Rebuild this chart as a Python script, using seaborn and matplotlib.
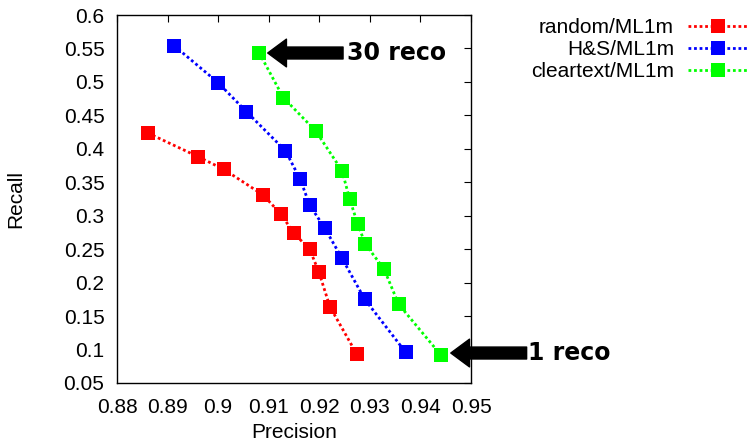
import matplotlib
matplotlib.use("Agg")
import matplotlib.pyplot as plt
import seaborn as sns
import pandas as pd

# ---- data ----
series_names = ["random/ML1m", "H&S/ML1m", "cleartext/ML1m"]
series_colors = ["#ff0000", "#0000ff", "#00ff00"]

random_precision = [0.8861, 0.8961, 0.9011, 0.9089, 0.9124, 0.9150, 0.9181, 0.9199, 0.9221, 0.9274]
random_recall = [0.4236, 0.3880, 0.3694, 0.3310, 0.3025, 0.2737, 0.2498, 0.2163, 0.1640, 0.0933]

hs_precision = [0.8913, 0.9000, 0.9056, 0.9133, 0.9162, 0.9181, 0.9211, 0.9245, 0.9290, 0.9371]
hs_recall = [0.5541, 0.4988, 0.4555, 0.3972, 0.3549, 0.3160, 0.2812, 0.2363, 0.1750, 0.0958]

clear_precision = [0.9081, 0.9129, 0.9193, 0.9245, 0.9260, 0.9276, 0.9291, 0.9328, 0.9357, 0.9440]
clear_recall = [0.5437, 0.4764, 0.4266, 0.3673, 0.3250, 0.2876, 0.2577, 0.2203, 0.1676, 0.0922]

x_ticks = [0.88, 0.89, 0.90, 0.91, 0.92, 0.93, 0.94, 0.95]
x_tick_labels = ["0.88", "0.89", "0.9", "0.91", "0.92", "0.93", "0.94", "0.95"]
y_ticks = [0.05, 0.1, 0.15, 0.2, 0.25, 0.3, 0.35, 0.4, 0.45, 0.5, 0.55, 0.6]
y_tick_labels = ["0.05", "0.1", "0.15", "0.2", "0.25", "0.3", "0.35", "0.4", "0.45", "0.5", "0.55", "0.6"]

annot_30_xy = (0.9098, 0.5432)
annot_30_tail = (0.9247, 0.5432)
annot_1_xy = (0.9460, 0.0948)
annot_1_tail = (0.9610, 0.0948)

# ---- build table ----
frames = []
for name, px, ry in zip(series_names,
                        [random_precision, hs_precision, clear_precision],
                        [random_recall, hs_recall, clear_recall]):
    frames.append(pd.DataFrame({"Precision": px, "Recall": ry, "series": name}))
df = pd.concat(frames, ignore_index=True)

sns.set_style("white")
plt.rcParams["font.family"] = ["Liberation Sans", "DejaVu Sans"]
plt.rcParams["text.color"] = "black"
plt.rcParams["axes.labelcolor"] = "black"
plt.rcParams["xtick.color"] = "black"
plt.rcParams["ytick.color"] = "black"

fig = plt.figure(figsize=(7.48, 4.44), dpi=100)
ax = fig.add_axes([117 / 748, 1 - 383 / 444, (471 - 117) / 748, (383 - 15) / 444])

palette = dict(zip(series_names, series_colors))
for name in series_names:
    sub = df[df["series"] == name]
    sns.lineplot(data=sub, x="Precision", y="Recall", color=palette[name],
                 marker="s", markersize=9.5, markeredgewidth=0,
                 linestyle=(0, (1, 1)), linewidth=2.0, sort=False,
                 estimator=None, label=name, ax=ax, legend=False)

ax.set_xlim(0.88, 0.95)
ax.set_ylim(0.05, 0.6)
ax.set_xticks(x_ticks)
ax.set_xticklabels(x_tick_labels)
ax.set_yticks(y_ticks)
ax.set_yticklabels(y_tick_labels)
ax.tick_params(direction="in", top=True, right=True, length=5, width=0.8,
               labelsize=15, pad=9, colors="black")
ax.tick_params(axis="x", pad=11)
for s in ax.spines.values():
    s.set_color("black")
    s.set_linewidth(1.0)

ax.set_xlabel("Precision", fontsize=15, color="black")
ax.set_ylabel("Recall", fontsize=15, color="black")
ax.xaxis.set_label_coords(0.5, -0.11)
ax.yaxis.set_label_coords(-0.26, 0.5)

arrow_kw = dict(facecolor="black", edgecolor="black", width=8.6, headwidth=20,
                headlength=13.5, shrink=0)
ax.annotate("", xy=annot_30_xy, xytext=annot_30_tail, arrowprops=arrow_kw,
            annotation_clip=False)
ax.text(annot_30_tail[0] + 0.0008, annot_30_tail[1], "30 reco", fontsize=17,
        fontweight="bold", family="DejaVu Sans", va="center", ha="left",
        color="black")
ax.annotate("", xy=annot_1_xy, xytext=annot_1_tail, arrowprops=arrow_kw,
            annotation_clip=False)
ax.text(annot_1_tail[0] + 0.0002, annot_1_tail[1], "1 reco", fontsize=17,
        fontweight="bold", family="DejaVu Sans", va="center", ha="left",
        clip_on=False, color="black")

handles = ax.get_lines()[:3]
leg = ax.legend(handles=handles, labels=series_names, loc="upper right",
                bbox_to_anchor=(1.0, 1 - 18 / 444), bbox_transform=fig.transFigure,
                markerfirst=False, frameon=False, fontsize=15, borderaxespad=0,
                borderpad=0, handlelength=2.9, handletextpad=0.65,
                labelspacing=0.15)
for t in leg.get_texts():
    t.set_color("black")

fig.savefig("out.png", dpi=100)
